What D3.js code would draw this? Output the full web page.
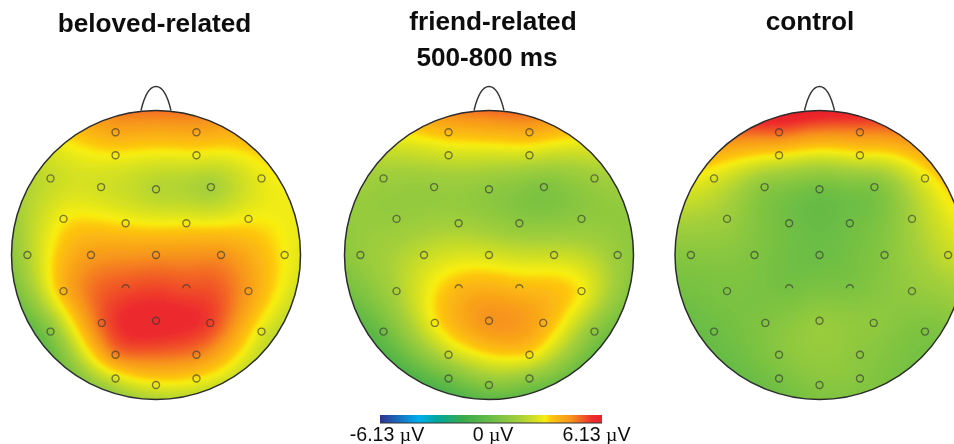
<!DOCTYPE html>
<html>
<meta charset="UTF-8" />
<script src="https://d3js.org/d3.v7.min.js"></script>
<style>
*{margin:0; padding:0;}
body{background:#fff; overflow:hidden;}
text{font-family:"Liberation Sans",Arial,sans-serif; fill:#111;}
</style>
<body>
<div id="chart"></div>
<script>
// electrode names and their places on the head (-1..1, y down)
var names = ["Fp1","Fp2","AF3","AF4","F7","F3","Fz","F4","F8","FC5","FC1","FC2","FC6","T7","C3","Cz","C4","T8","CP5","CP1","CP2","CP6","P7","P3","Pz","P4","P8","PO3","PO4","O1","Oz","O2"];
var headX = [-.28,.28,-.28,.28,-.73,-.38,0,.38,.73,-.64,-.21,.21,.64,-.89,-.45,0,.45,.89,-.64,-.21,.21,.64,-.73,-.375,0,.375,.73,-.28,.28,-.28,0,.28];
var headY = [-.85,-.85,-.69,-.69,-.53,-.47,-.455,-.47,-.53,-.25,-.22,-.22,-.25,0,0,0,0,0,.25,.23,.23,.25,.53,.47,.455,.47,.53,.69,.69,.855,.9,.855];
// these two rings are only half printed in the figure
var openRings = ["CP1","CP2"];

// amplitudes in microvolts
var beloved = [4.0,4.0,3.0,2.9,2.2,2.4,1.9,1.6,2.8,3.0,3.1,3.0,3.0,1.8,4.2,4.4,4.4,3.0,3.7,5.2,5.2,4.2,0.8,5.0,5.8,5.4,2.7,4.6,4.6,2.5,2.8,3.1];
var friend = [3.6,3.9,2.4,2.4,1.4,1.2,1.0,0.6,1.4,1.2,1.5,1.0,1.0,1.2,2.2,2.5,2.3,1.3,1.7,3.6,3.6,3.0,0.1,3.0,4.4,3.8,0.9,2.1,3.1,0.2,0.8,1.0];
var control = [5.0,4.6,3.0,2.9,2.6,0.9,0.2,0.6,2.8,1.4,0.2,0.2,1.6,0.8,0.6,0.1,0.8,2.2,0.5,0.3,0.5,1.1,0.1,0.6,1.2,1.0,0.5,0.8,0.9,0.4,0.8,0.8];

var titles = ["beloved-related","friend-related","control"];
var titleX = [154.5,493,810];
var titleY = [32,30,30];
var subtitle = "500-800 ms";
var centers = [156,489,819.5];

var colorValues = [-6.13,-4,-3,-1.5,0,1.6,2.5,3.0,3.3,4.4,5.6,6.13];
var colorList = ["#2e3192","#00aeef","#00a79d","#3aab4a","#6abd45","#a6d03a","#d8e220","#f8ee10","#fdc70f","#f7941d","#ed2c2e","#e8232a"];
var colorbarLabels = ["-6.13 ","0 ","6.13 "];
var labelX = [387,493,596.5];

var width = 954, height = 444;
var radius = 144.5, centerY = 255;
var gridN = 200;

var color = d3.scaleLinear().domain(colorValues).range(colorList).interpolate(d3.interpolateRgb).clamp(true);

var svg = d3.select("#chart").append("svg")
	.attr("width", width).attr("height", height)
	.style("display","block");
var defs = svg.append("defs");
defs.append("filter").attr("id","soft").attr("x","-5%").attr("y","-5%").attr("width","110%").attr("height","110%")
	.append("feGaussianBlur").attr("stdDeviation",1.6);
defs.append("filter").attr("id","print")
	.append("feGaussianBlur").attr("stdDeviation",0.35);

// thin plate spline through the electrodes
function solve(A,b)
{
	var n = b.length;
	for(var i=0;i<n;i++){
		var p = i;
		for(var k=i+1;k<n;k++) if(Math.abs(A[k][i])>Math.abs(A[p][i])) p = k;
		var t = A[i]; A[i] = A[p]; A[p] = t;
		t = b[i]; b[i] = b[p]; b[p] = t;
		for(k=i+1;k<n;k++){
			var f = A[k][i]/A[i][i];
			for(var j=i;j<n;j++) A[k][j] -= f*A[i][j];
			b[k] -= f*b[i];
		}
	}
	var x = new Array(n);
	for(i=n-1;i>=0;i--){
		var s = b[i];
		for(j=i+1;j<n;j++) s -= A[i][j]*x[j];
		x[i] = s/A[i][i];
	}
	return x;
}
function kernel(dx,dy)
{
	var r2 = dx*dx+dy*dy;
	return r2<1e-9 ? 0 : r2*Math.log(r2)/2;
}
function spline(values)
{
	var n = values.length, A = [], b = [];
	for(var i=0;i<n;i++){
		var row = [];
		for(var j=0;j<n;j++) row.push(kernel(headX[i]-headX[j],headY[i]-headY[j]));
		row.push(1,headX[i],headY[i]);
		A.push(row);
		b.push(values[i]);
	}
	[function(i){return 1;},function(i){return headX[i];},function(i){return headY[i];}].forEach(function(fn){
		var row = [];
		for(var i=0;i<n;i++) row.push(fn(i));
		row.push(0,0,0);
		A.push(row);
		b.push(0);
	});
	var w = solve(A,b);
	return function(x,y){
		var v = w[n]+w[n+1]*x+w[n+2]*y;
		for(var i=0;i<n;i++) v += w[i]*kernel(x-headX[i],y-headY[i]);
		return v;
	};
}

function drawHead(values,idx)
{
	var cx = centers[idx];
	var sx = d3.scaleLinear().domain([-1,1]).range([cx-radius,cx+radius]);
	var sy = d3.scaleLinear().domain([-1,1]).range([centerY-radius,centerY+radius]);
	var gx = d3.scaleLinear().domain([0,gridN-1]).range([-1.05,1.05]);

	var fn = spline(values);
	var grid = new Float64Array(gridN*gridN);
	for(var j=0;j<gridN;j++)
		for(var i=0;i<gridN;i++)
			grid[j*gridN+i] = fn(gx(i),gx(j));

	var thresholds = d3.range(-6.13,6.2,0.04);
	var contours = d3.contours().size([gridN,gridN]).smooth(true).thresholds(thresholds)(grid);
	var path = d3.geoPath(d3.geoTransform({point:function(x,y){
		this.stream.point(sx(gx(x-0.5)),sy(gx(y-0.5)));
	}}));

	defs.append("clipPath").attr("id","head"+idx)
		.append("circle").attr("cx",sx(0)).attr("cy",sy(0)).attr("r",radius);

	var g = svg.append("g");
	g.append("g").attr("clip-path","url(#head"+idx+")")
		.append("g").attr("filter","url(#soft)")
		.selectAll("path").data(contours).enter().append("path")
		.attr("d",path)
		.attr("fill",function(d){return color(d.value);});

	// nose, then outline
	g.append("path")
		.attr("d","M"+(cx-15)+","+(centerY-radius)+"C"+(cx-11)+","+(centerY-radius-17)+" "+(cx-6)+","+(centerY-radius-24)+" "+cx+","+(centerY-radius-24)
			+"C"+(cx+6)+","+(centerY-radius-24)+" "+(cx+11)+","+(centerY-radius-17)+" "+(cx+15)+","+(centerY-radius))
		.attr("fill","none").attr("stroke","#333").attr("stroke-width",1.4);
	g.append("circle").attr("cx",sx(0)).attr("cy",sy(0)).attr("r",radius)
		.attr("fill","none").attr("stroke","#2b2b2b").attr("stroke-width",1.5);

	g.selectAll("circle.el").data(names).enter().append("circle")
		.attr("class","el")
		.attr("cx",function(d,i){return sx(headX[i]);})
		.attr("cy",function(d,i){return sy(headY[i]);})
		.attr("r",3.5)
		.attr("fill","none").attr("stroke","#333").attr("stroke-opacity",.62).attr("stroke-width",1.4)
		.attr("pathLength",100)
		.attr("stroke-dasharray",function(d){return openRings.indexOf(d)>=0 ? "50 50" : null;})
		.attr("stroke-dashoffset",function(d){return openRings.indexOf(d)>=0 ? -50 : null;});
}

drawHead(beloved,0);
drawHead(friend,1);
drawHead(control,2);

titles.forEach(function(t,i){
	svg.append("text").attr("x",titleX[i]).attr("y",titleY[i]).attr("text-anchor","middle")
		.attr("filter","url(#print)")
		.style("font-size","26.2px").style("font-weight","bold").text(t);
});
svg.append("text").attr("x",487).attr("y",66).attr("text-anchor","middle")
	.attr("filter","url(#print)")
	.style("font-size","26.2px").style("font-weight","bold").text(subtitle);

// colour bar
var barX = d3.scaleLinear().domain([-6.13,6.13]).range([380,602]);
var grad = defs.append("linearGradient").attr("id","bar");
colorValues.forEach(function(v,i){
	grad.append("stop").attr("offset",(v+6.13)/12.26).attr("stop-color",colorList[i]);
});
svg.append("rect").attr("x",barX(-6.13)).attr("y",415).attr("width",barX(6.13)-barX(-6.13)).attr("height",8).attr("fill","url(#bar)");
svg.append("line").attr("x1",barX(-6.13)).attr("x2",barX(6.13)).attr("y1",423).attr("y2",423).attr("stroke","#333").attr("stroke-width",1);

labelX.forEach(function(x,i){
	var t = svg.append("text").attr("x",x).attr("y",441).attr("text-anchor","middle")
		.attr("filter","url(#print)").style("font-size","19.6px");
	t.append("tspan").text(colorbarLabels[i]);
	t.append("tspan").style("font-family","'Liberation Serif',serif").text("\u00b5");
	t.append("tspan").text("V");
});
</script>
</body>
</html>
